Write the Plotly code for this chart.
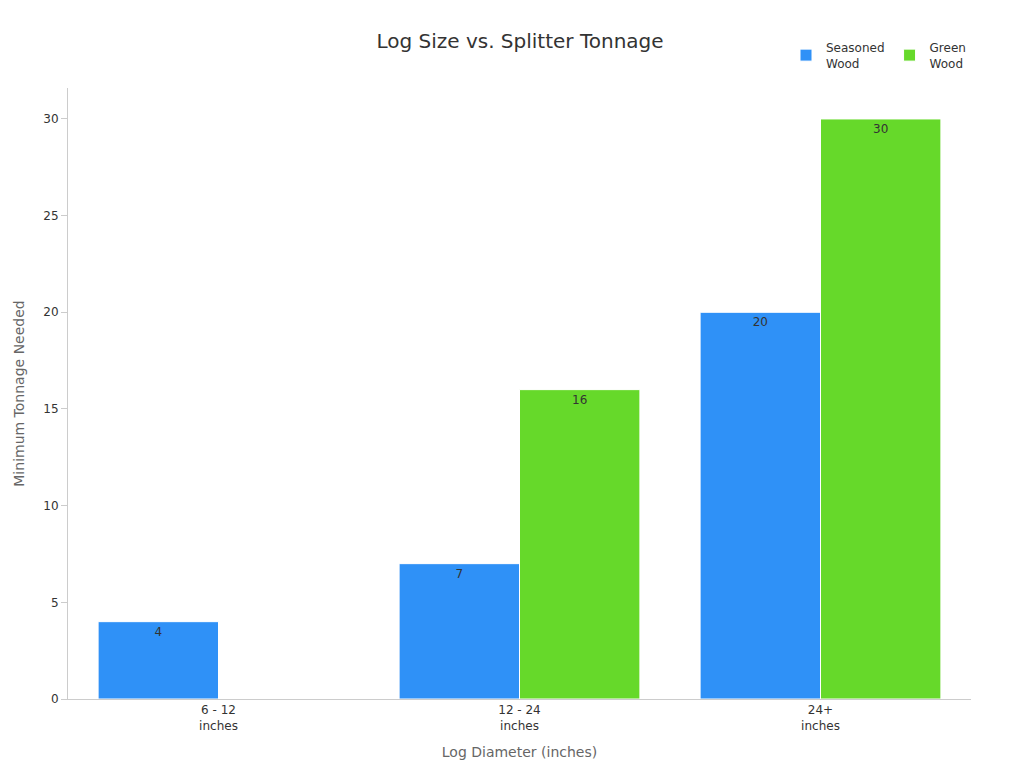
import plotly.graph_objects as go

categories = ["6 - 12<br>inches", "12 - 24<br>inches", "24+<br>inches"]
seasoned = [4, 7, 20]
green = [None, 16, 30]

fig = go.Figure()
fig.add_trace(go.Bar(x=categories, y=seasoned, name="Seasoned<br>Wood", marker_color="#2f91f7",
                     marker_line_color="white", marker_line_width=1,
                     text=seasoned, textposition="inside", insidetextanchor="end",
                     textfont=dict(color="#333333", size=12)))
fig.add_trace(go.Bar(x=categories, y=green, name="Green<br>Wood", marker_color="#66d92a",
                     marker_line_color="white", marker_line_width=1,
                     text=green, textposition="inside", insidetextanchor="end",
                     textfont=dict(color="#333333", size=12)))

fig.update_layout(
    width=1024, height=768,
    title=dict(text="Log Size vs. Splitter Tonnage", x=0.5, y=0.957, xanchor="center",
               yanchor="middle", font=dict(size=20, color="#333333")),
    font=dict(family="DejaVu Sans, sans-serif", color="#333333", size=12),
    plot_bgcolor="white", paper_bgcolor="white",
    barmode="group", bargap=0.2, bargroupgap=0,
    margin=dict(l=60, r=61, t=80, b=77, autoexpand=False),
    legend=dict(orientation="h", x=1.0, xanchor="right", y=1.09, yanchor="top",
                font=dict(size=12)),
    xaxis=dict(title=dict(text="Log Diameter (inches)", font=dict(size=14, color="#666666")),
               showline=True, linecolor="#cccccc", ticks=""),
    yaxis=dict(title=dict(text="Minimum Tonnage Needed", font=dict(size=14, color="#666666")),
               range=[0, 31.6], dtick=5, showgrid=False, showline=True, linecolor="#cccccc",
               ticks="outside", tickcolor="#cccccc", ticklen=6, zeroline=False),
)
fig.write_html("out.html")
